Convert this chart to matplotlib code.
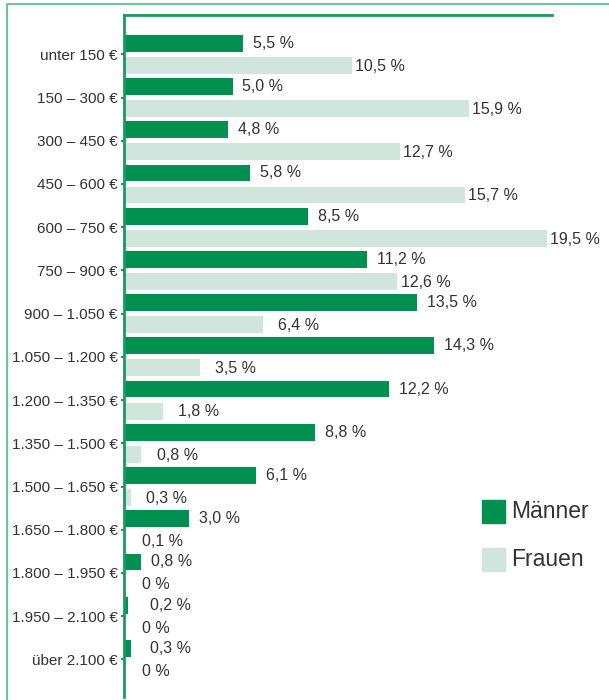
import numpy as np
import matplotlib
matplotlib.use("Agg")
import matplotlib.pyplot as plt
from matplotlib.patches import Rectangle
from matplotlib.lines import Line2D

plt.rcParams['font.family'] = ['Liberation Sans', 'DejaVu Sans']

# Data
categories = [
    "unter 150 €", "150 – 300 €", "300 – 450 €", "450 – 600 €",
    "600 – 750 €", "750 – 900 €", "900 – 1.050 €", "1.050 – 1.200 €",
    "1.200 – 1.350 €", "1.350 – 1.500 €", "1.500 – 1.650 €",
    "1.650 – 1.800 €", "1.800 – 1.950 €", "1.950 – 2.100 €", "über 2.100 €",
]
maenner = [5.5, 5.0, 4.8, 5.8, 8.5, 11.2, 13.5, 14.3, 12.2, 8.8, 6.1, 3.0, 0.8, 0.2, 0.3]
frauen = [10.5, 15.9, 12.7, 15.7, 19.5, 12.6, 6.4, 3.5, 1.8, 0.8, 0.3, 0.1, 0, 0, 0]

dark = "#00904f"
light = "#d0e6dc"
axis_col = "#1b9a5c"
text_col = "#333333"

def fmt(v):
    if v == 0:
        return "0 %"
    return f"{v:.1f}".replace(".", ",") + " %"

fig = plt.figure(figsize=(6.09, 7.0), dpi=100)
ax = fig.add_axes([124 / 609, 3 / 700, (552 - 124) / 609, (697 - 15) / 700])

y = np.arange(len(categories))
off = 0.255
h = 0.39
ax.barh(y - off, maenner, height=h, color=dark, left=0)
ax.barh(y + off, frauen, height=h, color=light, left=0)

for i in range(len(categories)):
    vm = maenner[i]
    vf = frauen[i]
    ax.text(max(vm + 0.45, 1.2), i - off, fmt(vm), va="center", ha="left",
            fontsize=11.5, color=text_col)
    xf = vf + 0.15 if vf > 10 else max(vf + 0.7, 0.85)
    ax.text(xf, i + off + 0.02, fmt(vf), va="center", ha="left",
            fontsize=11.5, color=text_col)

ax.set_xlim(0, 19.72)
ax.set_ylim(14.87, -0.91)
ax.set_yticks(y)
ax.set_yticklabels(categories, fontsize=11, color=text_col)
ax.tick_params(axis="y", length=2, width=1.5, color=axis_col, pad=2.5)
ax.set_xticks([])

for s in ["right", "bottom"]:
    ax.spines[s].set_visible(False)
for s in ["left", "top"]:
    ax.spines[s].set_color(axis_col)
    ax.spines[s].set_linewidth(2.0)

# outer frame
fig.add_artist(Line2D([7 / 609, 7 / 609, 1.0], [0.0, 1 - 4 / 700, 1 - 4 / 700],
                      transform=fig.transFigure, color="#6cc497", lw=1.5))

# legend
for k, (lab, col) in enumerate([("Männer", dark), ("Frauen", light)]):
    yc = 511 + k * 48
    fig.add_artist(Rectangle((482 / 609, 1 - (yc + 11.5) / 700), 23 / 609, 23 / 700,
                             transform=fig.transFigure, color=col))
    fig.text(511 / 609, 1 - yc / 700, lab, fontsize=16.5, va="center", ha="left",
             color=text_col)

fig.savefig("out.png", dpi=100)
